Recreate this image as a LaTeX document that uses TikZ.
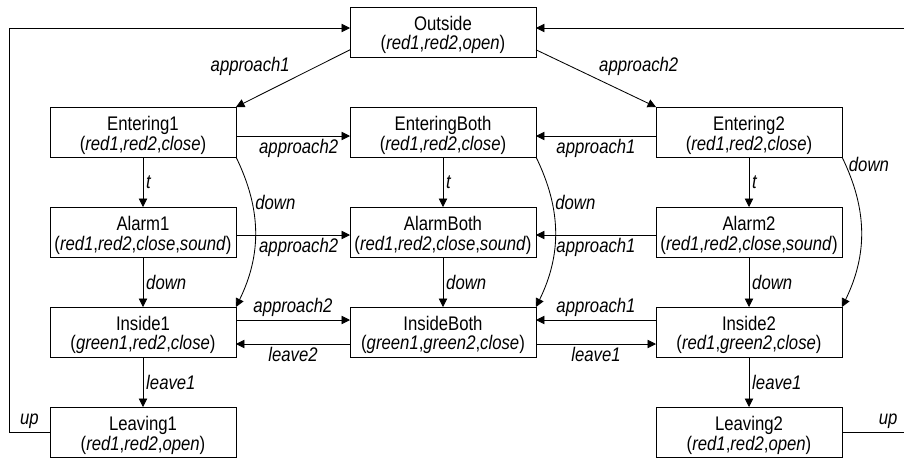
\documentclass[tikz,border=0pt]{standalone}
\usepackage{fontspec}
\setmainfont[FakeStretch=0.85]{Liberation Sans}
\usetikzlibrary{positioning,arrows.meta}

\tikzset{
	state/.style={draw, line width=0.6pt, minimum width=4.65cm, minimum height=1.25cm,
		inner sep=0pt, outer sep=0pt, align=center, font=\fontsize{14}{13.8}\selectfont,
		text height=28.5pt},
	trans/.style={-{Triangle[length=6pt,width=6pt]}, line width=0.6pt},
	lbl/.style={font=\fontsize{14}{14}\selectfont\itshape, inner sep=2pt}
}

\begin{document}
\begin{tikzpicture}
	\useasboundingbox (0,0) rectangle (22.6,-11.45);
	\clip (0,0) rectangle (22.6,-11.45);
	
	% states
	\node[state] (Outside) at (11.075,-0.8) {Outside\\(\textit{red1},\textit{red2},\textit{open})};
	\node[state, below=1.25cm of Outside] (EnteringBoth) {EnteringBoth\\(\textit{red1},\textit{red2},\textit{close})};
	\node[state, left=2.85cm of EnteringBoth] (Entering1) {Entering1\\(\textit{red1},\textit{red2},\textit{close})};
	\node[state, right=3cm of EnteringBoth] (Entering2) {Entering2\\(\textit{red1},\textit{red2},\textit{close})};
	
	\node[state, below=1.25cm of Entering1] (Alarm1) {Alarm1\\(\textit{red1},\textit{red2},\textit{close},\textit{sound})};
	\node[state, below=1.25cm of EnteringBoth] (AlarmBoth) {AlarmBoth\\(\textit{red1},\textit{red2},\textit{close},\textit{sound})};
	\node[state, below=1.25cm of Entering2] (Alarm2) {Alarm2\\(\textit{red1},\textit{red2},\textit{close},\textit{sound})};
	
	\node[state, below=1.25cm of Alarm1] (Inside1) {Inside1\\(\textit{green1},\textit{red2},\textit{close})};
	\node[state, below=1.25cm of AlarmBoth] (InsideBoth) {InsideBoth\\(\textit{green1},\textit{green2},\textit{close})};
	\node[state, below=1.25cm of Alarm2] (Inside2) {Inside2\\(\textit{red1},\textit{green2},\textit{close})};
	
	\node[state, below=1.25cm of Inside1] (Leaving1) {Leaving1\\(\textit{red1},\textit{red2},\textit{open})};
	\node[state, below=1.25cm of Inside2] (Leaving2) {Leaving2\\(\textit{red1},\textit{red2},\textit{open})};
	
	\coordinate (leftrail) at (0.225,0);
	\coordinate (rightrail) at (22.7,0);
	
	% from outside
	\draw[trans] ([yshift=0.18cm]Outside.south west) -- node[lbl, above left]{approach1} (Entering1.north east);
	\draw[trans] ([yshift=0.18cm]Outside.south east) -- node[lbl, above right]{approach2} (Entering2.north west);
	
	% towards the middle column
	\draw[trans] ([yshift=-0.1cm]Entering1.east) -- node[lbl, below, pos=0.55]{approach2} ([yshift=-0.1cm]EnteringBoth.west);
	\draw[trans] ([yshift=-0.1cm]Entering2.west) -- node[lbl, below]{approach1} ([yshift=-0.1cm]EnteringBoth.east);
	\draw[trans] ([yshift=-0.075cm]Alarm1.east) -- node[lbl, below, pos=0.55]{approach2} ([yshift=-0.075cm]AlarmBoth.west);
	\draw[trans] ([yshift=-0.075cm]Alarm2.west) -- node[lbl, below]{approach1} ([yshift=-0.075cm]AlarmBoth.east);
	\draw[trans] ([yshift=0.3cm]Inside1.east) -- node[lbl, above]{approach2} ([yshift=0.3cm]InsideBoth.west);
	\draw[trans] ([yshift=-0.3cm]InsideBoth.west) -- node[lbl, below]{leave2} ([yshift=-0.3cm]Inside1.east);
	\draw[trans] ([yshift=0.3cm]Inside2.west) -- node[lbl, above]{approach1} ([yshift=0.3cm]InsideBoth.east);
	\draw[trans] ([yshift=-0.3cm]InsideBoth.east) -- node[lbl, below]{leave1} ([yshift=-0.3cm]Inside2.west);
	
	% down the columns
	\foreach \c/\p in {1/0.3, Both/0.3, 2/0.05} {
		\draw[trans] (Entering\c) -- node[lbl, right]{t} (Alarm\c);
		\draw[trans] (Alarm\c) -- node[lbl, right]{down} (Inside\c);
		\draw[trans] (Entering\c.south east) to[bend left=26] node[lbl, right, pos=\p]{down} (Inside\c.north east);
	}
	\draw[trans] (Inside1) -- node[lbl, right]{leave1} (Leaving1);
	\draw[trans] (Inside2) -- node[lbl, right]{leave1} (Leaving2);
	
	% back to outside
	\draw[trans] (Leaving1.west) -- node[lbl, above]{up} (leftrail |- Leaving1.west) |- ([yshift=0.1cm]Outside.west);
	\draw[trans] (Leaving2.east) -- node[lbl, above, pos=0.7]{up} (rightrail |- Leaving2.east) |- ([yshift=0.1cm]Outside.east);
\end{tikzpicture}
\end{document}
